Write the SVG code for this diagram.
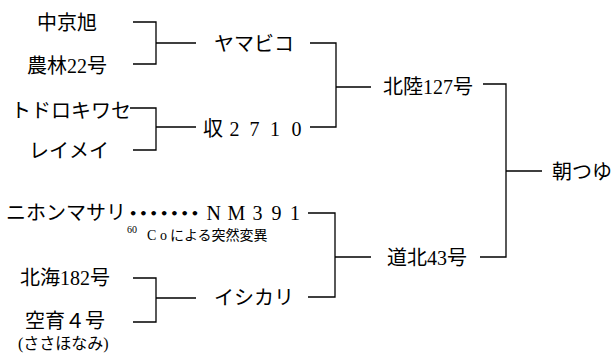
<svg xmlns="http://www.w3.org/2000/svg" width="612" height="354" viewBox="0 0 612 354">
<style>
.t{font-family:"Liberation Serif","Noto Sans CJK JP",serif;font-size:20px;fill:#000}
.s{font-size:14px}
.sup{font-size:10px}
.p{font-size:16px}
.dots{font-family:"DejaVu Sans",sans-serif;font-size:13px;letter-spacing:2px;font-weight:bold}
.c{fill:none;stroke:#000;stroke-width:1.3}
</style>
<rect width="612" height="354" fill="#fff"/>
<g id="connectors">
<path class="c" d="M133 22H156V64H133M156 43H196"/>
<path class="c" d="M130 108H156V150H133M156 127H196"/>
<path class="c" d="M133 278H156V322H133M156 298H196"/>
<path class="c" d="M310 43H336V127H310M336 87H371"/>
<path class="c" d="M308 213H335V297H308M335 257H371"/>
<path class="c" d="M483 84H506V257H480M506 171H542"/>
</g>
<g id="chukyo-asahi"><text class="t" x="37" y="30">中京旭</text></g>
<g id="norin22"><text class="t" x="27" y="72.5">農林22号</text></g>
<g id="todorokiwase"><text class="t" x="11" y="117.5">トドロキワセ</text></g>
<g id="reimei"><text class="t" x="29" y="157.5">レイメイ</text></g>
<g id="yamabiko"><text class="t" x="214" y="50.5">ヤマビコ</text></g>
<g id="shu2710"><text class="t" x="203 229.5 249.5 270 291.5" y="136">収2710</text></g>
<g id="hokuriku127"><text class="t" x="383" y="94">北陸127号</text></g>
<g id="asatsuyu"><text class="t" x="552" y="178.5">朝つゆ</text></g>
<g id="nihonmasari"><text class="t" x="6" y="220">ニホンマサリ</text><text class="t dots" x="129" y="217.5">•••••••</text></g>
<g id="nm391"><text class="t" x="206.5 227.5 252.5 271.5 290" y="220">NM391</text>
<text class="t sup" x="127" y="233">60</text><text class="t s" x="147 160 170" y="240">Coによる突然変異</text></g>
<g id="dohoku43"><text class="t" x="387" y="265">道北43号</text></g>
<g id="hokkai182"><text class="t" x="20" y="285">北海182号</text></g>
<g id="kuiku4"><text class="t" x="25" y="327.5">空育４号</text><text class="t p" x="18" y="349">(ささほなみ)</text></g>
<g id="ishikari"><text class="t" x="214" y="305">イシカリ</text></g>
</svg>
